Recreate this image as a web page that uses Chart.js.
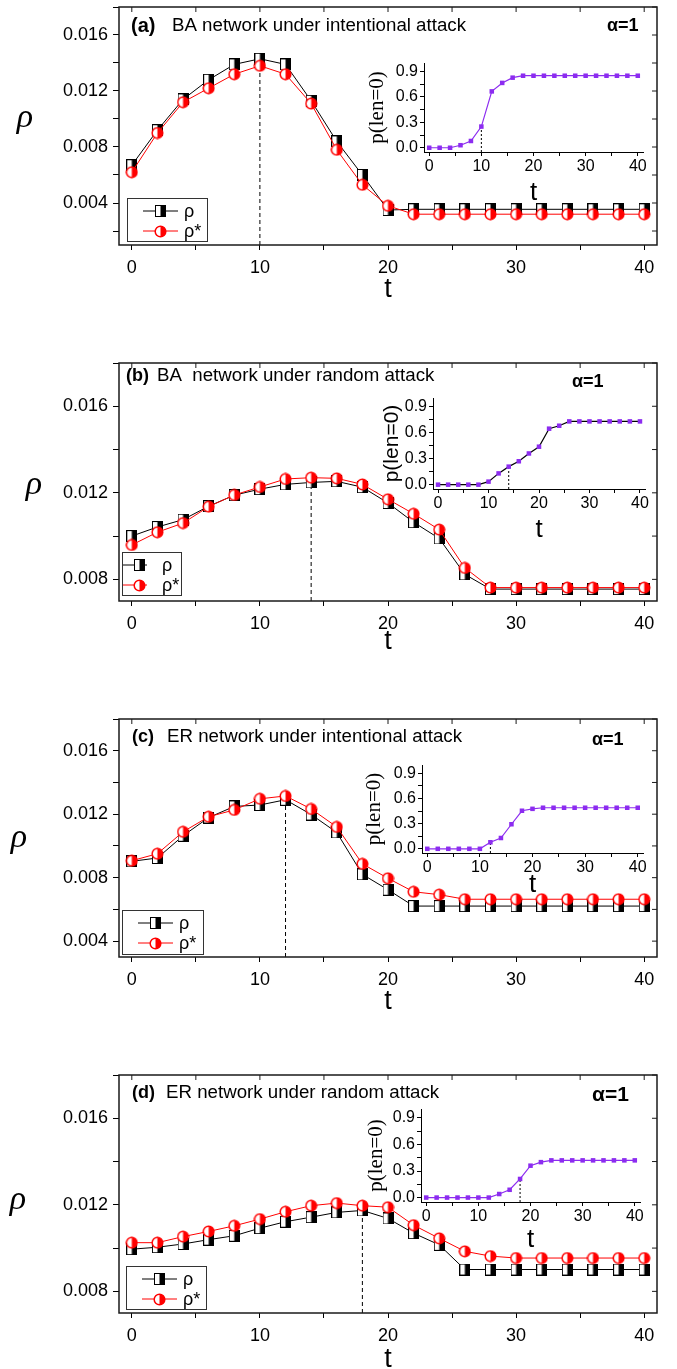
<!DOCTYPE html>
<html lang="en">
<head>
<meta charset="UTF-8">
<title>rho versus t under attack</title>
<style>
  html, body { margin: 0; padding: 0; background: #fff; }
  body { width: 677px; height: 1369px; overflow: hidden; position: relative; }
  .panel { position: absolute; left: 0; width: 677px; height: 356px; }
  .panel canvas { position: absolute; left: 0; top: 0; }
</style>
<script src="https://cdn.jsdelivr.net/npm/chart.js@4.4.1/dist/chart.umd.min.js"></script>
</head>
<body>
<div class="panel" style="top:0px"><canvas id="main-a" width="677" height="356"></canvas><canvas id="inset-a"></canvas></div>
<div class="panel" style="top:356px"><canvas id="main-b" width="677" height="356"></canvas><canvas id="inset-b"></canvas></div>
<div class="panel" style="top:712px"><canvas id="main-c" width="677" height="356"></canvas><canvas id="inset-c"></canvas></div>
<div class="panel" style="top:1068px"><canvas id="main-d" width="677" height="356"></canvas><canvas id="inset-d"></canvas></div>

<script>
// ---- data ----
const tValues = [0, 2, 4, 6, 8, 10, 12, 14, 16, 18, 20, 22, 24, 26, 28, 30, 32, 34, 36, 38, 40];

// (a) BA, intentional
const rhoA     = [0.0067, 0.0092, 0.0114, 0.0128, 0.0139, 0.0143, 0.0139, 0.0113, 0.0084, 0.0060, 0.0035,
                  0.00355, 0.00355, 0.00355, 0.00355, 0.00355, 0.00355, 0.00355, 0.00355, 0.00355, 0.00355];
const rhoStarA = [0.0062, 0.0090, 0.0112, 0.0122, 0.0132, 0.0138, 0.0132, 0.0111, 0.0078, 0.0053, 0.0038,
                  0.0032, 0.0032, 0.0032, 0.0032, 0.0032, 0.0032, 0.0032, 0.0032, 0.0032, 0.0032];
const pA = [0, 0, 0, 0.03, 0.08, 0.25, 0.665, 0.765, 0.827, 0.85, 0.85,
            0.85, 0.85, 0.85, 0.85, 0.85, 0.85, 0.85, 0.85, 0.85, 0.85];

// (b) BA, random
const rhoB     = [0.0100, 0.01042, 0.01076, 0.01138, 0.01189, 0.01217, 0.01239, 0.01248, 0.01253, 0.01226, 0.01153,
                  0.01064, 0.00989, 0.00823, 0.00755, 0.00755, 0.00755, 0.00755, 0.00755, 0.00755, 0.00755];
const rhoStarB = [0.00959, 0.01018, 0.0106, 0.01136, 0.0119, 0.01227, 0.01264, 0.0127, 0.01267, 0.01239, 0.0117,
                  0.01103, 0.0103, 0.00853, 0.00762, 0.00762, 0.00762, 0.00762, 0.00762, 0.00762, 0.00762];
const pB = [0, 0, 0, 0, 0, 0.035, 0.13, 0.208, 0.27, 0.36, 0.438,
            0.646, 0.68, 0.73, 0.73, 0.73, 0.73, 0.73, 0.73, 0.73, 0.73];

// (c) ER, intentional
const rhoC     = [0.00903, 0.00924, 0.01064, 0.01179, 0.01249, 0.01258, 0.01291, 0.01198, 0.01085, 0.00821, 0.00724,
                  0.00621, 0.00621, 0.00621, 0.00621, 0.00621, 0.00621, 0.00621, 0.00621, 0.00621, 0.00621];
const rhoStarC = [0.00907, 0.00951, 0.01089, 0.01184, 0.01227, 0.01297, 0.01315, 0.01233, 0.0112, 0.00887, 0.00796,
                  0.00711, 0.00693, 0.00664, 0.00664, 0.00664, 0.00664, 0.00664, 0.00664, 0.00664, 0.00664];
const pC = [0, 0, 0, 0, 0, 0, 0.078, 0.129, 0.293, 0.454, 0.477,
            0.49, 0.49, 0.49, 0.49, 0.49, 0.49, 0.49, 0.49, 0.49, 0.49];

// (d) ER, random
const rhoD     = [0.00995, 0.01004, 0.01019, 0.01039, 0.01057, 0.01092, 0.01122, 0.01143, 0.01165, 0.01174, 0.01137,
                  0.01069, 0.01015, 0.00901, 0.00901, 0.00901, 0.00901, 0.00901, 0.00901, 0.00901, 0.00901];
const rhoStarD = [0.01025, 0.01025, 0.01053, 0.01077, 0.01103, 0.01134, 0.01168, 0.01196, 0.01208, 0.01196, 0.01189,
                  0.01106, 0.01045, 0.00985, 0.00963, 0.00954, 0.00954, 0.00954, 0.00954, 0.00954, 0.00954];
const pD = [0, 0, 0, 0, 0, 0, 0, 0.04, 0.088, 0.21, 0.36,
            0.40, 0.42, 0.42, 0.42, 0.42, 0.42, 0.42, 0.42, 0.42, 0.42];

const peakT = [10, 14, 12, 18];
const yMinMain = [0.001, 0.007, 0.003, 0.007];
const yMaxMain = 0.018;

// tick positions (labels only on the majors)
const xTickValues = [0, 5, 10, 15, 20, 25, 30, 35, 40];
const yTickValues = [0.002, 0.004, 0.006, 0.008, 0.010, 0.012, 0.014, 0.016, 0.018];
const insetYTickValues = [0, 0.15, 0.3, 0.45, 0.6, 0.75, 0.9];

const panelLetters = ['(a)', '(b)', '(c)', '(d)'];
const panelTitles = ['BA network under intentional attack', 'BA  network under random attack',
                     'ER network under intentional attack', 'ER network under random attack'];
const alphaLabel = 'α=1';
const legendLabels = ['ρ', 'ρ*'];
const insetYTitle = 'p(len=0)';

const rhoSeries = [rhoA, rhoB, rhoC, rhoD];
const rhoStarSeries = [rhoStarA, rhoStarB, rhoStarC, rhoStarD];
const pSeries = [pA, pB, pC, pD];

// ---- layout (pixels, relative to each panel) ----
const SANS = "'Liberation Sans', Arial, sans-serif";
const SERIF = "'Liberation Serif', 'Times New Roman', serif";
const RED = '#ff0000';
const PURPLE = '#8c2cf0';

const layouts = [
  { id: 'a', letter: { x: 131, size: 20 }, title: { x: 172, y: 26 }, alpha: { x: 607, y: 26, size: 18 },
    rho: { x: 25, y: 118 }, tY: 290,
    legend: { x: 127, y: 198, w: 80, h: 43, l1: 16, l2: 51, m: 33, tx: 57 },
    inset: { l: 424, r: 643, t: 63, b: 152, ytx: 47, tdy: 41, serif: true, line: PURPLE } },
  { id: 'b', letter: { x: 126, size: 18 }, title: { x: 157, y: 20 }, alpha: { x: 572, y: 26, size: 18 },
    rho: { x: 34, y: 129 }, tY: 286,
    legend: { x: 122, y: 196, w: 59, h: 43, l1: 1, l2: 25, m: 17, tx: 40 },
    inset: { l: 433, r: 645, t: 42, b: 133, ytx: 41, tdy: 41, serif: false, line: '#000' } },
  { id: 'c', letter: { x: 132, size: 18 }, title: { x: 167, y: 25 }, alpha: { x: 592, y: 28, size: 18 },
    rho: { x: 19, y: 126 }, tY: 290,
    legend: { x: 122, y: 198, w: 81, h: 44, l1: 16, l2: 51, m: 33, tx: 57 },
    inset: { l: 422, r: 643, t: 53, b: 141, ytx: 48, tdy: 32, serif: true, line: PURPLE } },
  { id: 'd', letter: { x: 132, size: 18 }, title: { x: 166, y: 25 }, alpha: { x: 592, y: 27, size: 21 },
    rho: { x: 18, y: 132 }, tY: 292,
    legend: { x: 126, y: 198, w: 80, h: 43, l1: 16, l2: 51, m: 33, tx: 57 },
    inset: { l: 421, r: 640, t: 41, b: 134, ytx: 45, tdy: 38, serif: true, line: PURPLE } }
];

// ---- half-filled markers ----
function squareMark() {
  const c = document.createElement('canvas');
  c.width = 11; c.height = 12;
  const g = c.getContext('2d');
  g.fillStyle = '#fff'; g.fillRect(1, 1, 9, 10);
  g.fillStyle = '#000'; g.fillRect(5.5, 1, 4.5, 10);
  g.strokeStyle = '#000'; g.lineWidth = 1; g.strokeRect(0.5, 0.5, 10, 11);
  return c;
}
function circleMark() {
  const c = document.createElement('canvas');
  c.width = 13; c.height = 13;
  const g = c.getContext('2d');
  g.beginPath(); g.arc(6.5, 6.5, 5.3, 0, Math.PI * 2); g.fillStyle = '#fff'; g.fill();
  g.beginPath(); g.moveTo(6.5, 6.5); g.arc(6.5, 6.5, 5.3, -Math.PI / 2, Math.PI / 2); g.closePath();
  g.fillStyle = RED; g.fill();
  g.beginPath(); g.arc(6.5, 6.5, 5.3, 0, Math.PI * 2); g.strokeStyle = RED; g.lineWidth = 1.5; g.stroke();
  return c;
}
const SQ = squareMark();
const CI = circleMark();

const xy = arr => arr.map((v, k) => ({ x: tValues[k], y: v }));
const isMult = (v, step) => Math.abs(v / step - Math.round(v / step)) < 1e-6;
const asTicks = vals => vals.map(v => ({ value: v }));

Chart.defaults.color = '#000';
Chart.defaults.font.family = SANS;

function makeMain(i) {
  const L = layouts[i];
  const rho = rhoSeries[i];
  const k = tValues.indexOf(peakT[i]);
  const yTicks = yTickValues.filter(v => v >= yMinMain[i] && v <= yMaxMain);

  const decor = {
    id: 'decor' + L.id,
    afterDraw(chart) {
      const ctx = chart.ctx, a = chart.chartArea;
      const xs = chart.scales.x, ys = chart.scales.y;
      ctx.save();
      // frame
      ctx.strokeStyle = '#1a1a1a'; ctx.lineWidth = 1.5;
      ctx.strokeRect(a.left, a.top, a.right - a.left, a.bottom - a.top);
      // mirrored ticks, pointing in
      ctx.lineWidth = 1;
      ctx.beginPath();
      xs.ticks.forEach(t => { const px = xs.getPixelForValue(t.value); ctx.moveTo(px, a.top); ctx.lineTo(px, a.top + 5); });
      ys.ticks.forEach(t => { const py = ys.getPixelForValue(t.value); ctx.moveTo(a.right, py); ctx.lineTo(a.right - 5, py); });
      ctx.stroke();
      // texts
      ctx.fillStyle = '#000';
      ctx.textBaseline = 'middle';
      ctx.textAlign = 'left';
      ctx.font = `bold ${L.letter.size}px ${SANS}`;
      ctx.fillText(panelLetters[i], L.letter.x, L.title.y);
      ctx.font = `18.7px ${SANS}`;
      ctx.fillText(panelTitles[i], L.title.x, L.title.y);
      ctx.font = `bold ${L.alpha.size}px ${SANS}`;
      ctx.fillText(alphaLabel, L.alpha.x, L.alpha.y);
      ctx.textAlign = 'center';
      ctx.font = `italic 34px ${SERIF}`;
      ctx.fillText('ρ', L.rho.x, L.rho.y);
      ctx.font = `27px ${SANS}`;
      ctx.fillText('t', (a.left + a.right) / 2, L.tY);
      // legend
      const g = L.legend;
      ctx.strokeStyle = '#333'; ctx.lineWidth = 1;
      ctx.strokeRect(g.x + 0.5, g.y + 0.5, g.w, g.h);
      const rows = [
        { y: g.y + 13, color: '#000', img: SQ, text: legendLabels[0] },
        { y: g.y + 33, color: RED, img: CI, text: legendLabels[1] }
      ];
      ctx.textAlign = 'left';
      ctx.font = `18px ${SANS}`;
      rows.forEach(r => {
        ctx.strokeStyle = r.color; ctx.lineWidth = 1;
        ctx.beginPath(); ctx.moveTo(g.x + g.l1, r.y); ctx.lineTo(g.x + g.l2, r.y); ctx.stroke();
        ctx.drawImage(r.img, Math.round(g.x + g.m - r.img.width / 2), Math.round(r.y - r.img.height / 2));
        ctx.fillText(r.text, g.x + g.tx, r.y + 1);
      });
      ctx.restore();
    }
  };

  return new Chart(document.getElementById('main-' + L.id), {
    type: 'line',
    data: {
      datasets: [
        { label: legendLabels[1], data: xy(rhoStarSeries[i]), borderColor: RED, borderWidth: 1,
          pointStyle: CI, pointRadius: 6, pointHoverRadius: 6 },
        { label: legendLabels[0], data: xy(rho), borderColor: '#000', borderWidth: 1,
          pointStyle: SQ, pointRadius: 6, pointHoverRadius: 6 },
        { label: 'peak', data: [{ x: peakT[i], y: yMinMain[i] }, { x: peakT[i], y: rho[k] }],
          borderColor: '#000', borderWidth: 1, borderDash: [4, 3], pointRadius: 0 }
      ]
    },
    options: {
      responsive: false, animation: false, devicePixelRatio: 1,
      layout: { padding: { top: 2, right: 20, left: 0, bottom: 0 } },
      plugins: { legend: { display: false }, tooltip: { enabled: false } },
      scales: {
        x: {
          type: 'linear', min: -1, max: 41,
          afterBuildTicks: s => { s.ticks = asTicks(xTickValues); },
          afterFit: s => { s.height = 111; s.paddingLeft = 0; s.paddingRight = 0; },
          border: { display: false },
          grid: { drawOnChartArea: false, color: '#000', tickLength: 5 },
          ticks: { autoSkip: false, maxRotation: 0, padding: 7,
                   font: { size: 18 }, callback: v => isMult(v, 10) ? String(v) : '' }
        },
        y: {
          min: yMinMain[i], max: yMaxMain,
          afterBuildTicks: s => { s.ticks = asTicks(yTicks); },
          afterFit: s => { s.width = 119; s.paddingTop = 0; s.paddingBottom = 0; },
          border: { display: false },
          grid: { drawOnChartArea: false, color: '#000', tickLength: 6 },
          ticks: { autoSkip: false, padding: 5,
                   font: { size: 18 }, callback: v => isMult(v, 0.004) ? v.toFixed(3) : '' }
        }
      }
    },
    plugins: [decor]
  });
}

function makeInset(i) {
  const L = layouts[i], N = L.inset;
  const p = pSeries[i];
  const k = tValues.indexOf(peakT[i]);
  const padL = 70, padT = 8, padR = 12, padB = 50;
  const cv = document.getElementById('inset-' + L.id);
  cv.width = padL + (N.r - N.l) + padR;
  cv.height = padT + (N.b - N.t) + padB;
  cv.style.left = (N.l - padL) + 'px';
  cv.style.top = (N.t - padT) + 'px';

  const titles = {
    id: 'insetTitles' + L.id,
    afterDraw(chart) {
      const ctx = chart.ctx, a = chart.chartArea;
      ctx.save();
      ctx.fillStyle = '#000';
      ctx.textAlign = 'center'; ctx.textBaseline = 'middle';
      ctx.translate(a.left - N.ytx, (a.top + a.bottom) / 2);
      ctx.rotate(-Math.PI / 2);
      ctx.font = N.serif ? `21px ${SERIF}` : `21px ${SANS}`;
      ctx.fillText(insetYTitle, 0, 0);
      ctx.restore();
      ctx.save();
      ctx.fillStyle = '#000';
      ctx.textAlign = 'center'; ctx.textBaseline = 'middle';
      ctx.font = `26px ${SANS}`;
      ctx.fillText('t', (a.left + a.right) / 2, a.bottom + N.tdy);
      ctx.restore();
    }
  };

  return new Chart(cv, {
    type: 'line',
    data: {
      datasets: [
        { data: xy(p), borderColor: N.line, borderWidth: 1.2, pointStyle: 'rect', pointRadius: 3.2,
          pointBackgroundColor: PURPLE, pointBorderColor: PURPLE, pointBorderWidth: 0 },
        { data: [{ x: peakT[i], y: -0.05 }, { x: peakT[i], y: p[k] }],
          borderColor: '#000', borderWidth: 1, borderDash: [2, 2], pointRadius: 0 }
      ]
    },
    options: {
      responsive: false, animation: false, devicePixelRatio: 1,
      layout: { padding: { top: padT, right: padR, left: 0, bottom: 0 } },
      plugins: { legend: { display: false }, tooltip: { enabled: false } },
      scales: {
        x: {
          type: 'linear', min: -1, max: 41,
          afterBuildTicks: s => { s.ticks = asTicks(xTickValues); },
          afterFit: s => { s.height = padB; s.paddingLeft = 0; s.paddingRight = 0; },
          border: { display: true, color: '#000', width: 1 },
          grid: { drawOnChartArea: false, color: '#000', tickLength: 4 },
          ticks: { autoSkip: false, maxRotation: 0, padding: 1,
                   font: { size: 16 }, callback: v => isMult(v, 10) ? String(v) : '' }
        },
        y: {
          min: -0.05, max: 1.0,
          afterBuildTicks: s => { s.ticks = asTicks(insetYTickValues); },
          afterFit: s => { s.width = padL; s.paddingTop = 0; s.paddingBottom = 0; },
          border: { display: true, color: '#000', width: 1 },
          grid: { drawOnChartArea: false, color: '#000', tickLength: 4 },
          ticks: { autoSkip: false, padding: 2,
                   font: { size: 16 }, callback: v => isMult(v, 0.3) ? v.toFixed(1) : '' }
        }
      }
    },
    plugins: [titles]
  });
}

for (let i = 0; i < 4; i++) {
  makeMain(i);
  makeInset(i);
}
</script>
</body>
</html>
